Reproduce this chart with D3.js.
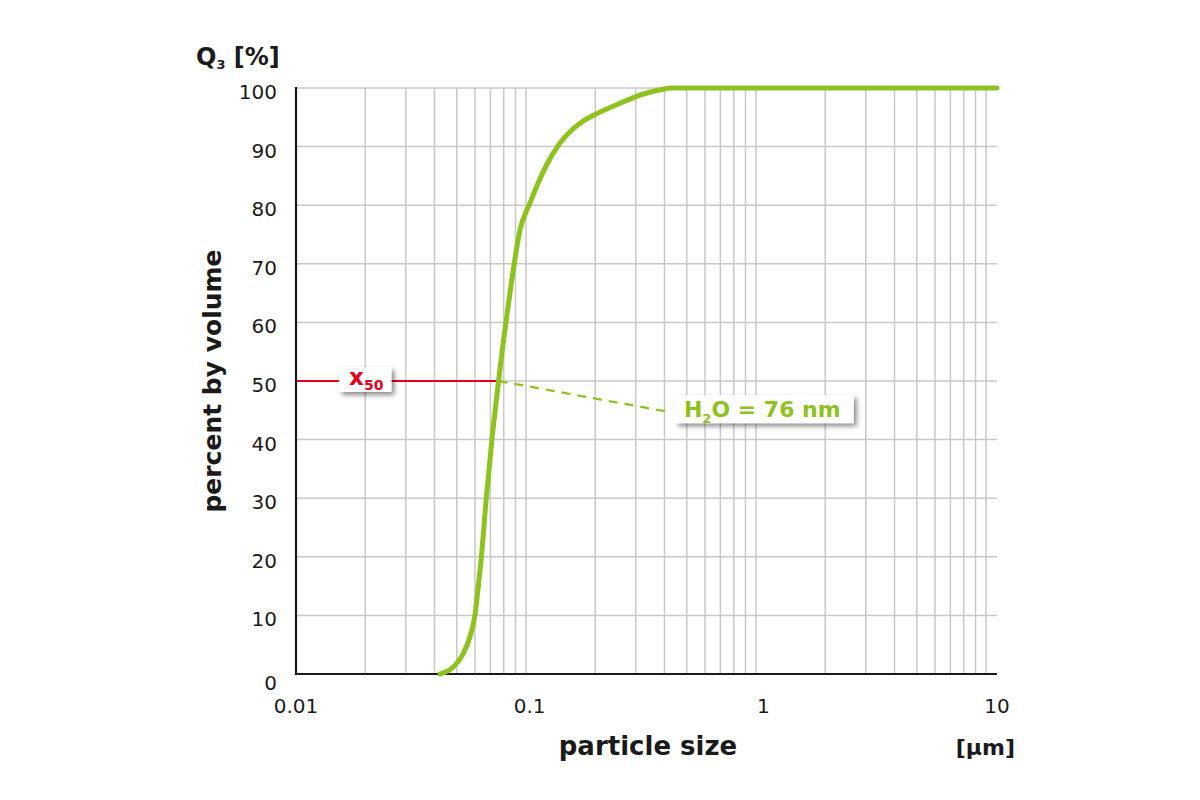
<!DOCTYPE html>
<html>
<head>
<meta charset="utf-8">
<script src="https://cdn.jsdelivr.net/npm/d3@7"></script>
<style>
  body { margin: 0; background: #fff; }
  svg text { font-family: "DejaVu Sans", Verdana, sans-serif; white-space: pre; }
</style>
</head>
<body>
<svg id="chart" width="1200" height="800"></svg>
<script>
// particle size distribution, Q3 cumulative
const sizes = [0.0423, 0.0483, 0.0534, 0.0571, 0.0600, 0.0620, 0.0638, 0.0672, 0.0711, 0.076,
  0.0787, 0.0818, 0.0867, 0.0942, 0.1041, 0.123, 0.1405, 0.1717, 0.1956, 0.2563,
  0.3131, 0.3954, 0.423, 11.16];
const cumulative = [0, 1.2, 3.5, 6.4, 10.1, 14.9, 19.5, 30, 40, 50,
  55, 60, 67.2, 75.8, 80.4, 86.9, 90.6, 94.0, 95.3, 97.4,
  98.8, 99.8, 100, 100];

const xTickLabels = ["0.01", "0.1", "1", "10"];
const yTicks = [0, 10, 20, 30, 40, 50, 60, 70, 80, 90, 100];
const xDomain = [0.01, 11.16];

const x50 = 0.076;           // µm
const x50LabelAt = [0.02, 50];
const h2oLabelAt = [0.444, 45.2];

const green = "#8dc21f";
const red = "#e2001a";
const ink = "#1a1a1a";

const svg = d3.select("#chart");

const x = d3.scaleLog().domain(xDomain).range([296, 997]);
const y = d3.scaleLinear().domain([0, 100]).range([674, 88]);
const xLabelPos = d3.scalePoint().domain(xTickLabels).range([296, 997]);

// shadow for the label boxes
svg.append("defs").append("filter")
  .attr("id", "shadow")
  .attr("x", "-30%").attr("y", "-50%").attr("width", "160%").attr("height", "200%")
  .append("feDropShadow")
  .attr("dx", 3).attr("dy", 3).attr("stdDeviation", 2.5)
  .attr("flood-color", "#000").attr("flood-opacity", 0.45);

// grid
const minor = [];
for (let e = -2; e <= 0; e++) {
  for (let m = 1; m <= 9; m++) {
    const v = m * Math.pow(10, e);
    if (v > 0.01) minor.push(v);
  }
}
minor.push(10);

svg.append("g").selectAll("line")
  .data(minor)
  .join("line")
  .attr("x1", d => x(d)).attr("x2", d => x(d))
  .attr("y1", y(0)).attr("y2", y(100))
  .attr("stroke", "#c8c8c8").attr("stroke-width", 1.5);

svg.append("g").selectAll("line")
  .data(yTicks.filter(d => d > 0))
  .join("line")
  .attr("x1", x.range()[0]).attr("x2", x.range()[1])
  .attr("y1", d => y(d)).attr("y2", d => y(d))
  .attr("stroke", "#c8c8c8").attr("stroke-width", 1.5);

// axes
svg.append("line")
  .attr("x1", x.range()[0]).attr("x2", x.range()[0])
  .attr("y1", y(100) - 1).attr("y2", y(0) + 1)
  .attr("stroke", ink).attr("stroke-width", 2.2);
svg.append("line")
  .attr("x1", x.range()[0] - 1).attr("x2", x.range()[1])
  .attr("y1", y(0)).attr("y2", y(0))
  .attr("stroke", ink).attr("stroke-width", 2.2);

// tick labels
svg.append("g").selectAll("text")
  .data(yTicks)
  .join("text")
  .attr("x", 277)
  .attr("y", d => y(d) + (d === 0 ? 16 : 11))
  .attr("text-anchor", "end")
  .attr("font-size", 20)
  .attr("fill", ink)
  .text(d => d);

svg.append("g").selectAll("text")
  .data(xTickLabels)
  .join("text")
  .attr("x", d => xLabelPos(d))
  .attr("y", 713)
  .attr("text-anchor", "middle")
  .attr("font-size", 20)
  .attr("fill", ink)
  .text(d => d);

// axis titles
const q3 = svg.append("text")
  .attr("x", 196).attr("y", 65)
  .attr("font-size", 24).attr("font-weight", "bold").attr("fill", ink);
q3.append("tspan").text("Q");
q3.append("tspan").attr("font-size", 13).attr("dy", 4).text("3");
q3.append("tspan").attr("dy", -4).text(" [%]");

svg.append("text")
  .attr("transform", "translate(221,381) rotate(-90)")
  .attr("text-anchor", "middle")
  .attr("font-size", 25).attr("font-weight", "bold").attr("fill", ink)
  .text("percent by volume");

svg.append("text")
  .attr("x", 648).attr("y", 755)
  .attr("text-anchor", "middle")
  .attr("font-size", 26).attr("font-weight", "bold").attr("fill", ink)
  .text("particle size");

svg.append("text")
  .attr("x", 1015).attr("y", 755)
  .attr("text-anchor", "end")
  .attr("font-size", 22).attr("font-weight", "bold").attr("fill", ink)
  .text("[µm]");

// x50 reference line
svg.append("line")
  .attr("x1", x.range()[0] + 1).attr("x2", x(x50))
  .attr("y1", y(50)).attr("y2", y(50))
  .attr("stroke", red).attr("stroke-width", 2);

// dashed leader to the H2O label
svg.append("line")
  .attr("x1", x(x50)).attr("y1", y(50))
  .attr("x2", x(h2oLabelAt[0]) - 5).attr("y2", y(h2oLabelAt[1]) + 3)
  .attr("stroke", green).attr("stroke-width", 2.3)
  .attr("stroke-dasharray", "9,7");

// distribution curve
const pts = sizes.map((s, i) => [s, cumulative[i]]);
const line = d3.line()
  .x(d => x(d[0]))
  .y(d => y(d[1]))
  .curve(d3.curveMonotoneX);

svg.append("path")
  .datum(pts)
  .attr("d", line)
  .attr("fill", "none")
  .attr("stroke", green)
  .attr("stroke-width", 5)
  .attr("stroke-linecap", "round")
  .attr("stroke-linejoin", "round");

// x50 label box
const xb = svg.append("g");
const xbRect = xb.append("rect").attr("fill", "#fff").attr("filter", "url(#shadow)");
const xbText = xb.append("text")
  .attr("font-weight", "bold").attr("fill", red);
xbText.append("tspan").attr("font-size", 23).text("x");
xbText.append("tspan").attr("font-size", 14).attr("dy", 5.5).text("50");
{
  const cx = x(x50LabelAt[0]), cy = y(x50LabelAt[1]) - 1.5;
  const w = xbText.node().getComputedTextLength();
  xbText.attr("x", cx - w / 2 + 1).attr("y", cy + 5);
  xbRect.attr("x", cx - w / 2 - 9).attr("y", cy - 12.5)
    .attr("width", w + 18).attr("height", 25);
}

// H2O label box
const hb = svg.append("g");
const hbRect = hb.append("rect").attr("fill", "#fff").attr("filter", "url(#shadow)");
const hbText = hb.append("text")
  .attr("font-weight", "bold").attr("fill", green).attr("font-size", 22);
hbText.append("tspan").text("H");
hbText.append("tspan").attr("font-size", 13).attr("dy", 6.5).text("2");
hbText.append("tspan").attr("dy", -6.5).text("O = 76 nm");
{
  const lx = x(h2oLabelAt[0]), cy = y(h2oLabelAt[1]);
  const w = hbText.node().getComputedTextLength();
  hbText.attr("x", lx + 9).attr("y", cy + 7.7);
  hbRect.attr("x", lx).attr("y", cy - 14)
    .attr("width", w + 22).attr("height", 28);
}
</script>
</body>
</html>
